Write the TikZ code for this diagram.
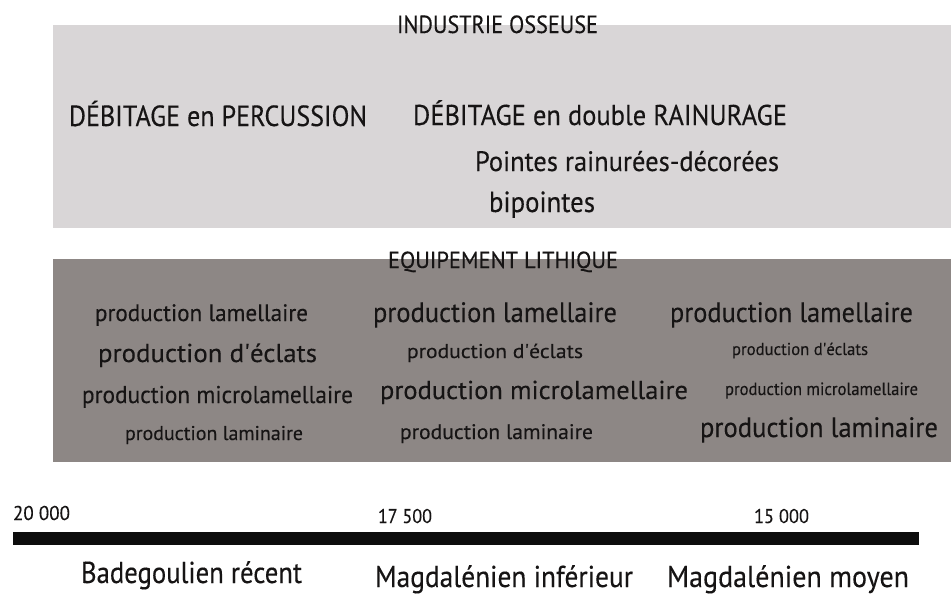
\documentclass[tikz,border=0pt]{standalone}
\usepackage{fontspec}
\setmainfont{PT Sans}
\newfontfamily\myfont{PT Sans}[FakeBold=0.25]
\usepackage{graphicx}
\definecolor{lightbox}{RGB}{217,214,215}
\definecolor{darkbox}{RGB}{141,135,133}
\definecolor{ink}{RGB}{22,20,20}
\newlength\fitlen
\newcommand\fitx[3]{\pgfmathsetmacro\fsz{#2*1.08}\settowidth\fitlen{\myfont\fontsize{\fsz}{\fsz}\selectfont #3}\pgfmathsetmacro\fitsc{#1/\fitlen}\scalebox{\fitsc}[1]{\myfont\fontsize{\fsz}{\fsz}\selectfont #3}}
\begin{document}
\begin{tikzpicture}[x=1pt,y=-1pt,
  txt/.style={inner sep=0pt, outer sep=0pt, anchor=base west, text=ink}]
\useasboundingbox (0,0) rectangle (951,595);
\fill[white] (0,0) rectangle (951,595);
% boxes
\fill[lightbox] (53,25) rectangle (951,228);
\fill[darkbox] (53,259) rectangle (951,462);
% bar
\fill[black!95] (13,532) rectangle (919,545);
% bone industry
\node[txt] (ind) at (397,33) {\fitx{201}{23}{INDUSTRIE OSSEUSE}};
\node[txt] (perc) at (69,126) {\fitx{298}{27}{DÉBITAGE en PERCUSSION}};
\node[txt] (rain) at (413,125) {\fitx{374}{26.5}{DÉBITAGE en double RAINURAGE}};
\node[txt] (pointes) at (475,171) {\fitx{304}{26}{Pointes rainurées-décorées}};
\node[txt] (bip) at (489,212) {\fitx{106}{27}{bipointes}};
% lithic
\node[txt] (equip) at (388,268) {\fitx{230}{21.5}{EQUIPEMENT LITHIQUE}};
% column 1
\node[txt] (a1) at (95,321) {\fitx{213}{22}{production lamellaire}};
\node[txt] (a2) at (98,362) {\fitx{219}{24}{production d\textquotesingle éclats}};
\node[txt] (a3) at (82,403) {\fitx{271}{22.5}{production microlamellaire}};
\node[txt] (a4) at (125,440) {\fitx{178}{18.5}{production laminaire}};
% column 2
\node[txt] (b1) at (373,322) {\fitx{244}{26}{production lamellaire}};
\node[txt] (b2) at (407,358) {\fitx{176}{18.5}{production d\textquotesingle éclats}};
\node[txt] (b3) at (380,399) {\fitx{308}{24}{production microlamellaire}};
\node[txt] (b4) at (400,439) {\fitx{193}{19.5}{production laminaire}};
% column 3
\node[txt] (c1) at (670,322) {\fitx{243}{26}{production lamellaire}};
\node[txt] (c2) at (732,355) {\fitx{136}{16}{production d\textquotesingle éclats}};
\node[txt] (c3) at (725,395) {\fitx{193}{16.5}{production microlamellaire}};
\node[txt] (c4) at (700,437) {\fitx{238}{26}{production laminaire}};
% timeline
\node[txt] (t1) at (13,520) {\fitx{57}{18.5}{20 000}};
\node[txt] (t2) at (378,523) {\fitx{54}{18.5}{17 500}};
\node[txt] (t3) at (754,523) {\fitx{55}{18.5}{15 000}};
\node[txt] (p1) at (81,583) {\fitx{221}{28}{Badegoulien récent}};
\node[txt] (p2) at (375,587) {\fitx{258}{28}{Magdalénien inférieur}};
\node[txt] (p3) at (667,587) {\fitx{242}{28}{Magdalénien moyen}};
\end{tikzpicture}
\end{document}
